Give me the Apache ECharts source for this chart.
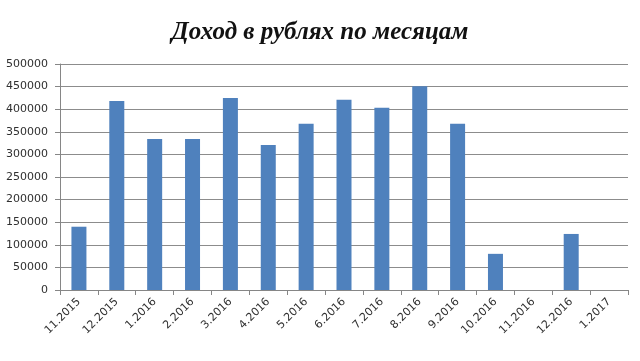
<!DOCTYPE html>
<html><head><meta charset="utf-8">
<script src="https://cdn.jsdelivr.net/npm/echarts@6/dist/echarts.min.js"></script>
<style>html,body{margin:0;padding:0;background:#fff}#c{width:640px;height:361px}</style>
</head><body><div id="c"></div>
<script>
const titleText = 'Доход в рублях по месяцам';
const categories = ['11.2015','12.2015','1.2016','2.2016','3.2016','4.2016','5.2016','6.2016','7.2016','8.2016','9.2016','10.2016','11.2016','12.2016','1.2017'];
const income = [140000,418000,334000,334000,425000,321000,368000,421000,403000,451000,368000,80000,0,124000,0];
const chart = echarts.init(document.getElementById('c'), null, {renderer:'canvas'});
chart.setOption({
  animation:false,
  backgroundColor:'#fff',
  title:{text:titleText,left:'center',top:15,textStyle:{fontFamily:'Liberation Serif',fontStyle:'italic',fontWeight:'bold',fontSize:25,color:'#111'}},
  grid:{left:60,right:12,top:64,bottom:71},
  xAxis:{type:'category',data:categories,
    axisLine:{lineStyle:{color:'#868686'}},
    axisTick:{show:true,alignWithLabel:false,length:5,lineStyle:{color:'#868686'}},
    axisLabel:{rotate:45,fontSize:11,color:'#303030',fontFamily:'DejaVu Sans',margin:10,interval:0}},
  yAxis:{type:'value',min:0,max:500000,interval:50000,
    axisLine:{show:true,lineStyle:{color:'#868686'}},
    axisTick:{show:true,length:5,lineStyle:{color:'#868686'}},
    splitLine:{lineStyle:{color:'#8c8c8c'}},
    axisLabel:{fontSize:11,color:'#303030',fontFamily:'DejaVu Sans',margin:12,formatter:function(v){return String(v);}}},
  series:[{type:'bar',data:income,barWidth:15,itemStyle:{color:'#4f81bd'}}]
});
</script></body></html>
